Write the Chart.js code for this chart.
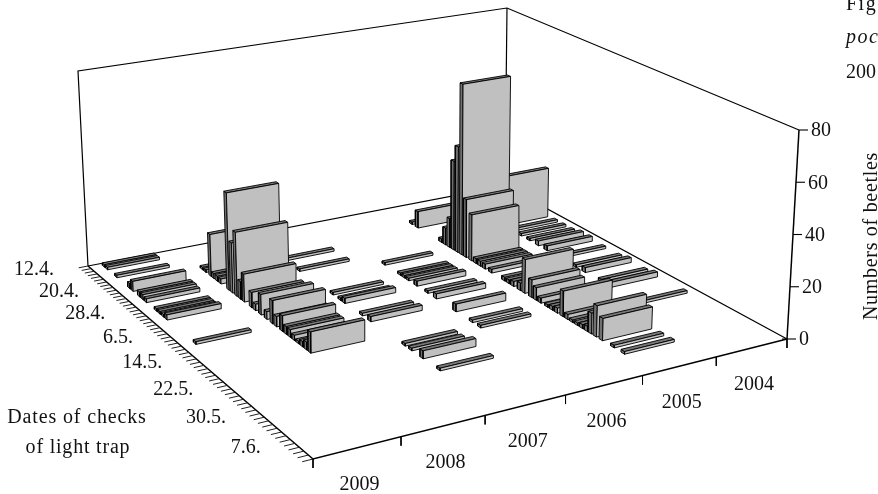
<!DOCTYPE html>
<html>
<head>
<meta charset="utf-8">
<title>Numbers of beetles</title>
<script src="https://cdn.jsdelivr.net/npm/chart.js@4/dist/chart.umd.min.js"></script>
<style>
  html, body { margin: 0; padding: 0; background: #fff; }
  canvas { display: block; }
</style>
</head>
<body>
<canvas id="chart" width="878" height="494"></canvas>
<script>
const years = ["2009", "2008", "2007", "2006", "2005", "2004"];
const dateLabels = ["12.4.", "20.4.", "28.4.", "6.5.", "14.5.", "22.5.", "30.5.", "7.6."];
const countTicks = [0, 20, 40, 60, 80];

// day = days after 12.4., count = beetles in the light trap
const days2009 = [1, 2, 5, 9, 10, 12, 13, 14, 17, 18, 19, 20, 28];
const counts2009 = [1, 1, 1, 2, 4, 2, 2, 1.5, 1, 1, 1, 2, 1];

const days2008 = [7.7, 8.7, 10.2, 11, 12, 13, 15.3, 16.3, 17.5, 18.5, 19.5, 21.5, 22.5, 24, 25.5, 27, 28, 29.5, 30.5, 31.5, 32.5, 33.5, 34.5, 35.5, 36.5];
const counts2008 = [1, 1, 17, 2, 2, 2, 39, 20, 25.5, 7, 11, 6, 2.5, 8, 3, 9, 4, 6, 3, 3, 2, 1, 2, 3, 8];

const days2007 = [10, 14, 22.7, 24.7, 25.7, 30, 32, 40, 41.5, 44, 47.7];
const counts2007 = [1, 1, 1, 1, 2, 1, 2, 1, 1, 3, 1];

const days2006 = [17.3, 21.2, 22.2, 23.2, 25.2, 27.8, 29.8, 34.3, 38, 39.8];
const counts2006 = [1, 1, 1, 1, 2, 1, 2, 3, 1, 1];

const days2005 = [6.5, 8, 14, 15, 16, 17, 18, 19, 20, 21.3, 22.4, 23.4, 24.5, 26, 29, 30, 31, 32.5, 33.5, 35, 36, 37, 38.5, 39.5, 40.5, 41.7, 42.7, 43.7, 44.7, 45.7, 46.7, 47.5, 48.5, 49.7, 52, 54];
const counts2005 = [1, 7, 1.5, 7, 12, 37, 44, 71, 24, 19, 2, 2, 2, 1.5, 1.5, 1.5, 2, 3, 13.5, 7, 5, 2, 1, 1.5, 2, 10, 2, 1, 1, 1.5, 2, 8, 12, 8.5, 1, 1];

const days2004 = [12.7, 15, 17, 19, 21, 23, 26, 29.5, 31.5, 35, 37, 43];
const counts2004 = [21, 1, 1, 1, 2, 2, 1, 1, 2, 1, 2, 1];

const seasons = [
  [days2009, counts2009],
  [days2008, counts2008],
  [days2007, counts2007],
  [days2006, counts2006],
  [days2005, counts2005],
  [days2004, counts2004]
];

const dayMax = 60;
const countMax = 80;
const labelEvery = 8;

// corners of the box on the page: u runs along the dates, v along the years
const floorQuad = [[88, 266], [313, 459], [787, 339], [505, 186]];
const roofQuad = [[78, 71], [309, 226], [799, 130], [507, 8]];

function quadMap(q) {
  const [x0, y0] = q[0], [x1, y1] = q[1], [x2, y2] = q[2], [x3, y3] = q[3];
  const dx1 = x1 - x2, dx2 = x3 - x2, sx = x0 - x1 + x2 - x3;
  const dy1 = y1 - y2, dy2 = y3 - y2, sy = y0 - y1 + y2 - y3;
  const den = dx1 * dy2 - dx2 * dy1;
  const g = (sx * dy2 - dx2 * sy) / den;
  const h = (dx1 * sy - sx * dy1) / den;
  const a = x1 - x0 + g * x1, b = x3 - x0 + h * x3;
  const d = y1 - y0 + g * y1, e = y3 - y0 + h * y3;
  return (u, v) => {
    const w = g * u + h * v + 1;
    return [(a * u + b * v + x0) / w, (d * u + e * v + y0) / w];
  };
}

const floorAt = quadMap(floorQuad);
const roofAt = quadMap(roofQuad);

// day, year position, count -> point on the chart's x/y scales
function project(day, yearPos, count) {
  const u = day / dayMax, v = yearPos / years.length, t = count / countMax;
  const f = floorAt(u, v), r = roofAt(u, v);
  return { x: f[0] + (r[0] - f[0]) * t, y: f[1] + (r[1] - f[1]) * t };
}

const datasets = [];

function addPath(points, opts) {
  datasets.push(Object.assign({
    data: points,
    showLine: true,
    tension: 0,
    pointRadius: 0,
    borderColor: "#000",
    borderWidth: 1,
    fill: false,
    clip: false,
    order: -datasets.length
  }, opts));
}

function addFace(points, color) {
  addPath(points.concat([points[0]]), {
    fill: "shape",
    backgroundColor: color,
    borderWidth: 0.9,
    borderJoinStyle: "round"
  });
}

function addBar(day, yearPos, count) {
  const d0 = day - 0.35, d1 = day + 0.35;
  const p0 = yearPos + 0.16, p1 = yearPos + 0.84;
  addFace([project(d0, p0, 0), project(d1, p0, 0), project(d1, p0, count), project(d0, p0, count)], "#707070");
  addFace([project(d0, p0, count), project(d1, p0, count), project(d1, p1, count), project(d0, p1, count)], "#777777");
  addFace([project(d1, p0, 0), project(d1, p1, 0), project(d1, p1, count), project(d1, p0, count)], "#c0c0c0");
}

// walls and floor outline
const n = years.length;
addPath([project(0, 0, 0), project(0, 0, countMax), project(0, n, countMax), project(dayMax, n, countMax)], { borderWidth: 1.2 });
addPath([project(0, 0, 0), project(0, n, 0), project(dayMax, n, 0)], { borderWidth: 1.2 });
addPath([project(0, n, 0), project(0, n, countMax)], { borderWidth: 1.2 });

// bars, from the far side of the box to the near side
for (let i = seasons.length - 1; i >= 0; i--) {
  const [days, counts] = seasons[i];
  days.forEach((day, k) => addBar(day, i, counts[k]));
}

// axes in front of the bars
addPath([project(0, 0, 0), project(dayMax, 0, 0), project(dayMax, n, 0)], { borderWidth: 1.5 });
addPath([project(dayMax, n, 0), project(dayMax, n, countMax)], { borderWidth: 1.5 });

for (let day = 0; day <= dayMax; day++) {
  addPath([project(day, 0, 0), project(day, -0.12, 0)], { borderWidth: 1, borderColor: "#222" });
}
for (let i = 0; i <= n; i++) {
  const p = project(dayMax, i, 0);
  addPath([p, { x: p.x, y: p.y + 9 }], { borderWidth: 1 });
}
countTicks.forEach(c => {
  const p = project(dayMax, n, c);
  addPath([{ x: p.x - (c === 0 ? 5 : 0), y: p.y }, { x: p.x + 9, y: p.y }], { borderWidth: 1.1 });
});

const textPlugin = {
  id: "boxText",
  afterDraw(chart) {
    const { ctx, scales } = chart;
    const put = (s, x, y, align, font, spacing) => {
      ctx.font = font || "20px 'Liberation Serif'";
      ctx.letterSpacing = spacing || "0px";
      ctx.textAlign = align;
      ctx.textBaseline = "middle";
      ctx.fillStyle = "#111";
      ctx.fillText(s, scales.x.getPixelForValue(x), scales.y.getPixelForValue(y));
    };
    ctx.save();
    dateLabels.forEach((s, i) => {
      const p = project(i * labelEvery, 0, 0);
      put(s, p.x - 34, p.y + 4, "right");
    });
    years.forEach((s, i) => {
      const p = project(dayMax, i + 0.5, 0);
      put(s, p.x + 2, p.y + 37, "center");
    });
    countTicks.forEach(c => {
      const p = project(dayMax, n, c);
      put(String(c), p.x + 12, p.y + 1, "left");
    });
    put("Dates of checks", 77, 418, "center", null, "0.85px");
    put("of light trap", 78, 448, "center", null, "0.8px");
    put("Fig.", 846, 5, "left", null, "1.5px");
    put("poc", 846, 38, "left", "italic 20px 'Liberation Serif'", "1.5px");
    put("200", 846, 73, "left");
    ctx.restore();
    ctx.save();
    ctx.translate(872, 236);
    ctx.rotate(-Math.PI / 2);
    ctx.font = "20px 'Liberation Serif'";
    ctx.letterSpacing = "0.7px";
    ctx.textAlign = "center";
    ctx.textBaseline = "middle";
    ctx.fillStyle = "#111";
    ctx.fillText("Numbers of beetles", 0, 0);
    ctx.restore();
  }
};

new Chart(document.getElementById("chart"), {
  type: "scatter",
  data: { datasets },
  options: {
    responsive: false,
    animation: false,
    layout: { padding: 0 },
    plugins: { legend: { display: false }, tooltip: { enabled: false } },
    scales: {
      x: { type: "linear", min: 0, max: 878, display: false },
      y: { type: "linear", min: 0, max: 494, reverse: true, display: false }
    }
  },
  plugins: [textPlugin]
});
</script>
</body>
</html>
